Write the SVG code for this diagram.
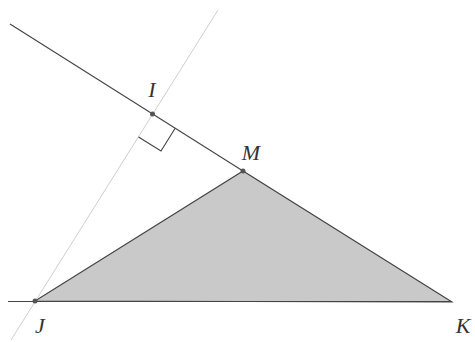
<svg xmlns="http://www.w3.org/2000/svg" width="475" height="342" viewBox="0 0 475 342">
<style>
.ln{stroke:#444;stroke-width:1.1;fill:none}
.lt{stroke:#cfcfcf;stroke-width:1;fill:none}
.dot{fill:#555}
.lbl{font-family:"Liberation Serif",serif;font-style:italic;font-size:22px;fill:#333}
</style>
<rect width="475" height="342" fill="#fff"/>
<g id="triangle">
<polygon points="35,301 243,171 452,302" fill="#c9c9c9" stroke="#444" stroke-width="1.1"/>
</g>
<g id="connectors">
<line class="lt" x1="11" y1="340" x2="218" y2="10"/>
<line class="ln" x1="10" y1="24" x2="243" y2="171"/>
<line class="ln" x1="8" y1="301.5" x2="452" y2="301.5"/>
<polyline class="ln" points="175,128.5 161,151 138.5,137"/>
</g>
<g id="I"><circle class="dot" cx="152.5" cy="114" r="2.5"/><text class="lbl" x="152" y="97" text-anchor="middle">I</text></g>
<g id="M"><circle class="dot" cx="243" cy="171" r="2.5"/><text class="lbl" x="251" y="160" text-anchor="middle">M</text></g>
<g id="J"><circle class="dot" cx="35" cy="301" r="2.5"/><text class="lbl" x="40" y="333" text-anchor="middle">J</text></g>
<g id="K"><text class="lbl" x="463" y="333" text-anchor="middle">K</text></g>
</svg>
